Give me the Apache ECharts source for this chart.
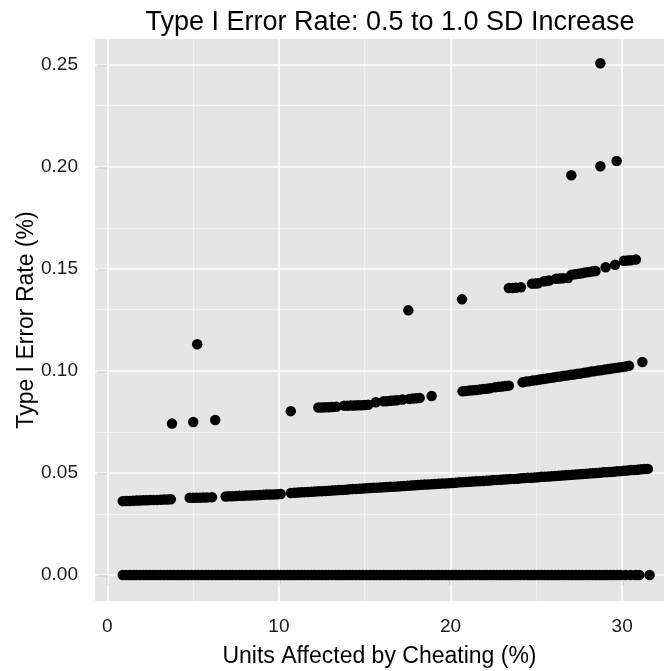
<!DOCTYPE html>
<html>
<head>
<meta charset="utf-8">
<script src="https://cdn.jsdelivr.net/npm/echarts@6/dist/echarts.min.js"></script>
<style>
  html, body { margin: 0; padding: 0; background: #fff; }
  #chart { width: 664px; height: 671px; }
</style>
</head>
<body>
<div id="chart"></div>
<script>
// tick positions
const xTicks = [0, 10, 20, 30];
const xMinor = [5, 15, 25];
const yTicks = [0, 0.05, 0.10, 0.15, 0.20, 0.25];
const yMinor = [0.025, 0.075, 0.125, 0.175, 0.225];

const zeroBandX = [
  0.9, 1.1, 1.3, 1.5, 1.7, 1.9, 2.1, 2.3, 2.5, 2.7, 2.9, 3.1, 3.3, 3.5, 3.7, 3.9,
  4.1, 4.3, 4.5, 4.7, 4.9, 5.1, 5.3, 5.5, 5.7, 5.9, 6.1, 6.3, 6.5, 6.7, 6.9, 7.1,
  7.3, 7.5, 7.7, 7.9, 8.1, 8.3, 8.5, 8.7, 8.9, 9.1, 9.3, 9.5, 9.7, 9.9, 10.1, 10.3,
  10.5, 10.7, 10.9, 11.1, 11.3, 11.5, 11.7, 11.9, 12.1, 12.3, 12.5, 12.7, 12.9, 13.1,
  13.3, 13.5, 13.7, 13.9, 14.1, 14.3, 14.5, 14.7, 14.9, 15.1, 15.3, 15.5, 15.7, 15.9,
  16.1, 16.3, 16.5, 16.7, 16.9, 17.1, 17.3, 17.5, 17.7, 17.9, 18.1, 18.3, 18.5, 18.7,
  18.9, 19.1, 19.3, 19.5, 19.7, 19.9, 20.1, 20.3, 20.5, 20.7, 20.9, 21.1, 21.3, 21.5,
  21.7, 21.9, 22.1, 22.3, 22.5, 22.7, 22.9, 23.1, 23.3, 23.5, 23.7, 23.9, 24.1, 24.3,
  24.5, 24.7, 24.9, 25.1, 25.3, 25.5, 25.7, 25.9, 26.1, 26.3, 26.5, 26.7, 26.9, 27.1,
  27.3, 27.5, 27.7, 27.9, 28.1, 28.3, 28.5, 28.7, 28.9, 29.1, 29.3, 29.5, 29.7, 29.9,
  30.2, 30.5, 30.8, 31.0, 31.6
];

// band around 0.04 - 0.05
const lowBand = [
  [0.9, 0.0362], [1.1, 0.0363], [1.3, 0.0363], [1.5, 0.0364], [1.7, 0.0365],
  [1.9, 0.0365], [2.1, 0.0366], [2.3, 0.0366], [2.5, 0.0367], [2.7, 0.0368],
  [2.9, 0.0368], [3.1, 0.0369], [3.3, 0.0370], [3.5, 0.0370], [3.7, 0.0371],
  [4.8, 0.0378], [5.0, 0.0378], [5.2, 0.0379], [5.4, 0.0379], [5.6, 0.0380],
  [5.8, 0.0380], [6.1, 0.0381],
  [6.9, 0.0385], [7.1, 0.0386], [7.3, 0.0386], [7.5, 0.0387], [7.7, 0.0388],
  [7.9, 0.0388], [8.1, 0.0389], [8.3, 0.0390], [8.5, 0.0391], [8.7, 0.0391],
  [8.9, 0.0392], [9.1, 0.0393], [9.3, 0.0394], [9.5, 0.0394], [9.7, 0.0395],
  [9.9, 0.0396], [10.1, 0.0397],
  [10.7, 0.0402], [10.9, 0.0403], [11.1, 0.0404], [11.3, 0.0405], [11.5, 0.0406],
  [11.7, 0.0407], [11.9, 0.0408], [12.1, 0.0409], [12.3, 0.0410], [12.5, 0.0411],
  [12.7, 0.0412], [12.9, 0.0413], [13.1, 0.0414], [13.3, 0.0415], [13.5, 0.0416],
  [13.7, 0.0417], [13.9, 0.0418], [14.1, 0.0420], [14.3, 0.0421], [14.5, 0.0422],
  [14.7, 0.0423], [14.9, 0.0424], [15.1, 0.0425], [15.3, 0.0426], [15.5, 0.0427],
  [15.7, 0.0428], [15.9, 0.0429], [16.1, 0.0430], [16.3, 0.0431], [16.5, 0.0432],
  [16.7, 0.0433], [16.9, 0.0434], [17.1, 0.0435], [17.3, 0.0436], [17.5, 0.0437],
  [17.7, 0.0439], [17.9, 0.0440], [18.1, 0.0441], [18.3, 0.0442], [18.5, 0.0443],
  [18.7, 0.0444], [18.9, 0.0445], [19.1, 0.0446], [19.3, 0.0447], [19.5, 0.0448],
  [19.7, 0.0449], [19.9, 0.0450], [20.1, 0.0451], [20.3, 0.0452], [20.5, 0.0454],
  [20.7, 0.0455], [20.9, 0.0456], [21.1, 0.0457], [21.3, 0.0458], [21.5, 0.0459],
  [21.7, 0.0460], [21.9, 0.0461], [22.1, 0.0462], [22.3, 0.0463], [22.5, 0.0465],
  [22.7, 0.0466], [22.9, 0.0467], [23.1, 0.0468], [23.3, 0.0469], [23.5, 0.0470],
  [23.7, 0.0471], [23.9, 0.0472], [24.1, 0.0474], [24.3, 0.0475], [24.5, 0.0476],
  [24.7, 0.0477], [24.9, 0.0478], [25.1, 0.0479], [25.3, 0.0481], [25.5, 0.0482],
  [25.7, 0.0483], [25.9, 0.0484], [26.1, 0.0485], [26.3, 0.0486], [26.5, 0.0488],
  [26.7, 0.0489], [26.9, 0.0490], [27.1, 0.0491], [27.3, 0.0493], [27.5, 0.0494],
  [27.7, 0.0495], [27.9, 0.0496], [28.1, 0.0498], [28.3, 0.0499], [28.5, 0.0500],
  [28.7, 0.0501], [28.9, 0.0503], [29.1, 0.0504], [29.3, 0.0505], [29.5, 0.0506],
  [29.7, 0.0508], [29.9, 0.0509], [30.1, 0.0511], [30.3, 0.0512], [30.5, 0.0514],
  [30.7, 0.0515], [30.9, 0.0516], [31.1, 0.0518], [31.3, 0.0519], [31.5, 0.0520]
];

// band around 0.08 - 0.10
const midBand = [
  [3.77, 0.0742], [5.01, 0.0750], [6.29, 0.0760], [10.69, 0.0803],
  [12.3, 0.0821], [12.5, 0.0821], [12.7, 0.0822], [12.9, 0.0822], [13.1, 0.0823], [13.35, 0.0824],
  [13.8, 0.0830], [14.0, 0.0830], [14.2, 0.0831], [14.4, 0.0831], [14.6, 0.0832],
  [14.8, 0.0832], [15.0, 0.0833], [15.2, 0.0834],
  [15.65, 0.0847],
  [16.1, 0.0851], [16.3, 0.0852], [16.5, 0.0854], [16.7, 0.0855], [16.9, 0.0857], [17.2, 0.0860],
  [17.6, 0.0863], [17.8, 0.0865], [18.0, 0.0866], [18.2, 0.0868],
  [18.9, 0.0877],
  [20.7, 0.0900], [20.9, 0.0902], [21.1, 0.0904], [21.3, 0.0905], [21.5, 0.0907],
  [21.7, 0.0909], [21.9, 0.0911], [22.1, 0.0913], [22.3, 0.0915],
  [22.6, 0.0920], [22.8, 0.0922], [23.0, 0.0924], [23.2, 0.0926], [23.4, 0.0928],
  [24.2, 0.0945], [24.4, 0.0948], [24.6, 0.0950], [24.8, 0.0953], [25.0, 0.0955],
  [25.2, 0.0958], [25.4, 0.0960], [25.6, 0.0963], [25.8, 0.0966], [26.0, 0.0968],
  [26.2, 0.0971], [26.4, 0.0973], [26.6, 0.0976], [26.8, 0.0978], [27.0, 0.0981],
  [27.2, 0.0983], [27.4, 0.0986], [27.6, 0.0988], [27.8, 0.0991], [28.0, 0.0994],
  [28.2, 0.0997], [28.4, 0.0999], [28.6, 0.1002], [28.8, 0.1004], [29.0, 0.1007],
  [29.2, 0.1009], [29.4, 0.1012], [29.6, 0.1014], [29.8, 0.1017], [30.0, 0.1019],
  [30.2, 0.1022], [30.4, 0.1025],
  [31.18, 0.1044]
];

// band around 0.13 - 0.155
const highBand = [
  [17.54, 0.1297], [20.67, 0.1351],
  [23.4, 0.1406], [23.6, 0.1407], [23.8, 0.1408], [24.1, 0.1410],
  [24.75, 0.1428], [24.95, 0.1429], [25.1, 0.1430],
  [25.45, 0.1440], [25.6, 0.1441], [25.75, 0.1443],
  [26.15, 0.1452], [26.35, 0.1453], [26.55, 0.1454], [26.85, 0.1456],
  [27.05, 0.1472], [27.25, 0.1474], [27.45, 0.1476], [27.65, 0.1479], [27.85, 0.1482],
  [28.05, 0.1485], [28.25, 0.1487], [28.45, 0.1490],
  [29.04, 0.1508], [29.59, 0.1520],
  [30.1, 0.1540], [30.3, 0.1541], [30.5, 0.1543], [30.8, 0.1546]
];

const outliers = [
  [5.24, 0.1131], [27.04, 0.1959], [28.73, 0.2003], [29.68, 0.2029], [28.73, 0.2508]
];

const FONT = '"Liberation Sans", Arial, sans-serif';

const chart = echarts.init(document.getElementById('chart'));

const allPoints = zeroBandX.map(x => [x, 0])
  .concat(lowBand, midBand, highBand, outliers);

const gridLines = [
  ...xMinor.map(v => ({ xAxis: v, lineStyle: { color: '#F2F2F2', width: 1, type: 'solid' } })),
  ...yMinor.map(v => ({ yAxis: v, lineStyle: { color: '#F2F2F2', width: 1, type: 'solid' } })),
  ...xTicks.map(v => ({ xAxis: v, lineStyle: { color: '#FFFFFF', width: 1.6, type: 'solid' } })),
  ...yTicks.map(v => ({ yAxis: v, lineStyle: { color: '#FFFFFF', width: 1.6, type: 'solid' } }))
];

const option = {
  animation: false,
  backgroundColor: '#ffffff',
  title: {
    text: 'Type I Error Rate: 0.5 to 1.0 SD Increase',
    left: 385,
    top: 4,
    textAlign: 'center',
    textStyle: { fontFamily: FONT, fontSize: 27, fontWeight: 'normal', color: '#000' }
  },
  grid: {
    left: 95, right: 0, top: 39, bottom: 70,
    show: true,
    backgroundColor: '#E5E5E5',
    borderWidth: 0,
    containLabel: false,
    outerBoundsMode: 'none'
  },
  xAxis: {
    type: 'value',
    min: -0.717,
    max: 32.44,
    name: 'Units Affected by Cheating (%)',
    nameLocation: 'middle',
    nameGap: 44,
    nameMoveOverlap: false,
    nameTextStyle: { fontFamily: FONT, fontSize: 23, color: '#000' },
    axisLine: { show: false },
    axisTick: { show: true, length: 10, customValues: xTicks, lineStyle: { color: '#7F7F7F', width: 1.3 } },
    axisLabel: { customValues: xTicks, margin: 16, fontFamily: FONT, fontSize: 19, color: '#1a1a1a' },
    splitLine: { show: false }
  },
  yAxis: {
    type: 'value',
    min: -0.01275,
    max: 0.2627,
    name: 'Type I Error Rate (%)',
    nameLocation: 'middle',
    nameGap: 57,
    nameMoveOverlap: false,
    nameRotate: 90,
    nameTextStyle: { fontFamily: FONT, fontSize: 23, color: '#000' },
    axisLine: { show: false },
    axisTick: { show: true, length: 10, customValues: yTicks, lineStyle: { color: '#7F7F7F', width: 1.3 } },
    axisLabel: {
      customValues: yTicks, margin: 17, fontFamily: FONT, fontSize: 19, color: '#1a1a1a',
      formatter: v => v.toFixed(2)
    },
    splitLine: { show: false }
  },
  series: [
    {
      type: 'scatter',
      data: [],
      z: 1,
      silent: true,
      markLine: {
        silent: true,
        z: 1,
        symbol: 'none',
        label: { show: false },
        animation: false,
        data: gridLines
      }
    },
    {
      type: 'scatter',
      data: allPoints,
      z: 4,
      symbol: 'circle',
      symbolSize: 10.5,
      large: false,
      itemStyle: { color: '#000000', opacity: 1, borderWidth: 0 },
      emphasis: { disabled: true },
      silent: true
    }
  ]
};

chart.setOption(option);
</script>
</body>
</html>
